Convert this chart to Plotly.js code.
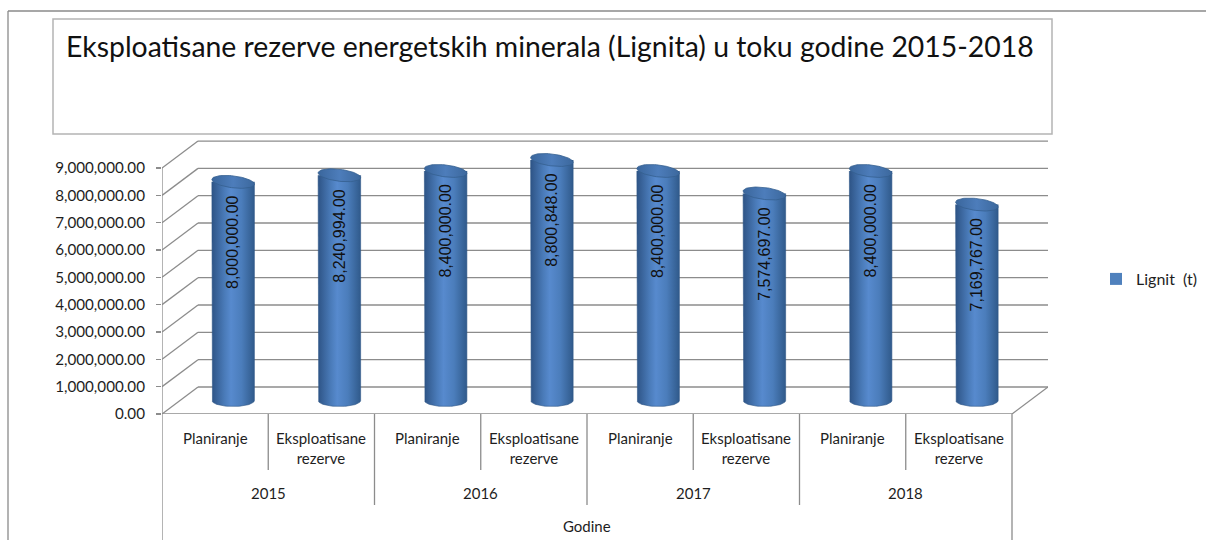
<!DOCTYPE html>
<html>
<head>
<meta charset="utf-8">
<script src="https://cdn.plot.ly/plotly-3.0.1.min.js"></script>
<style>html,body{margin:0;padding:0;background:#fff;}#chart{width:1206px;height:540px;}</style>
</head>
<body>
<div id="chart"></div>
<script>
// ---- data ----
const years = ['2015', '2016', '2017', '2018'];
const categories = ['Planiranje', 'Eksploatisane<br>rezerve', 'Planiranje', 'Eksploatisane<br>rezerve',
                    'Planiranje', 'Eksploatisane<br>rezerve', 'Planiranje', 'Eksploatisane<br>rezerve'];
const values = [8000000, 8240994, 8400000, 8800848, 8400000, 7574697, 8400000, 7169767];
const yTicks = [0, 1000000, 2000000, 3000000, 4000000, 5000000, 6000000, 7000000, 8000000, 9000000];
const seriesName = 'Lignit  (t)';
const axisTitle = 'Godine';
const chartTitle = 'Eksploatisane rezerve energetskih minerala (Lignita) u toku godine 2015-2018';

// ---- geometry (pixel helpers for decoration) ----
const L = 162, R = 1048, T = 140, B = 414;
const W = R - L, H = B - T;
const pxX = p => (p - L) / W;          // pixel -> paper x
const pxY = p => (B - p) / H;          // pixel -> paper y
const unitX = 106.25;                  // px per category
const unitY = 27.33 / 1e6;             // px per value unit
const DX = 36 / unitX;                 // depth offset (category units)
const DY = 27 / unitY;                 // depth offset (value units)
const xMin = -0.5, xMax = -0.5 + W / unitX;
const yMax = H / unitY;

const grid = '#8c8c8c';
const shapes = [];
const line = (x0, y0, x1, y1, xref, yref, color, width) => shapes.push({
  type: 'line', x0, y0, x1, y1, xref, yref, layer: 'below',
  line: {color: color || grid, width: width || 1.3}
});

// outer frame and title box
line(pxX(8), pxY(11), pxX(8), pxY(540), 'paper', 'paper', '#8a8a8a', 1.3);
line(pxX(8), pxY(11), pxX(1206), pxY(11), 'paper', 'paper', '#8a8a8a', 1.3);
shapes.push({type: 'rect', xref: 'paper', yref: 'paper', x0: pxX(53), x1: pxX(1052), y0: pxY(19), y1: pxY(134),
  line: {color: '#b4b4b4', width: 1.5}, fillcolor: 'rgba(0,0,0,0)', layer: 'below'});

// back wall gridlines + side diagonals
const n = values.length;
yTicks.forEach(v => {
  line(xMin + DX, v + DY, n - 0.5 + DX, v + DY, 'x', 'y');
  line(xMin, v, xMin + DX, v + DY, 'x', 'y');
});
// front axis line, floor front edge, floor right diagonal
line(xMin, 0, xMin, yTicks[yTicks.length - 1], 'x', 'y');
line(xMin, 0, n - 0.5, 0, 'x', 'y');
line(n - 0.5, 0, n - 0.5 + DX, DY, 'x', 'y');

// category separators under the axis
for (let i = 0; i <= n; i++) {
  let bottom = 470;
  if (i % 2 === 0) bottom = 505;
  if (i === 0 || i === n) bottom = 540;
  shapes.push({type: 'line', xref: 'x', yref: 'paper', x0: i - 0.5, x1: i - 0.5, y0: 0, y1: pxY(bottom),
    line: {color: grid, width: 1.3}, layer: 'below'});
}

// ---- cylinders ----
const traces = [];
const hw = 0.2;                  // half width in category units
const ry = 6 / unitY;            // ellipse half-height in value units
const body = [[0, '#2e5486'], [0.3, '#4a7bb9'], [0.45, '#578ace'], [0.7, '#4b7dbb'], [1, '#305a8b']];
const cap = [[0, '#3a669c'], [0.5, '#4d7dbb'], [1, '#3c689d']];
const steps = 40;
const annotations = [];
values.forEach((v, i) => {
  const cx = i + DX / 2;
  const yb = DY / 2, yt = v + DY / 2;
  const bx = [cx - hw], by = [yt];
  bx.push(cx - hw); by.push(yb);
  for (let k = 0; k <= steps; k++) {
    const a = Math.PI + Math.PI * k / steps;
    bx.push(cx + hw * Math.cos(a)); by.push(yb + ry * Math.sin(a));
  }
  bx.push(cx + hw); by.push(yt);
  traces.push({type: 'scatter', mode: 'lines', x: bx, y: by, fill: 'toself',
    fillgradient: {type: 'horizontal', colorscale: body},
    line: {color: '#2d5587', width: 0.6}, hoverinfo: 'skip', showlegend: false});
  const tx = [], ty = [];
  for (let k = 0; k <= 2 * steps; k++) {
    const a = 2 * Math.PI * k / (2 * steps);
    tx.push(cx + hw * Math.cos(a)); ty.push(yt + ry * Math.sin(a) - 0.4 * ry * Math.cos(a));
  }
  traces.push({type: 'scatter', mode: 'lines', x: tx, y: ty, fill: 'toself',
    fillgradient: {type: 'horizontal', colorscale: cap},
    line: {color: '#35608f', width: 0.8}, hoverinfo: 'skip', showlegend: false});
  annotations.push({x: cx, y: yt, xref: 'x', yref: 'y', yanchor: 'top', xanchor: 'center', yshift: -11,
    text: v.toLocaleString('en-US', {minimumFractionDigits: 2, maximumFractionDigits: 2}),
    textangle: -90, showarrow: false,
    font: {family: 'Liberation Sans, Arial, sans-serif', size: 16, color: '#111'}});
});

// legend entry
traces.push({type: 'bar', x: [null], y: [null], name: seriesName, marker: {color: '#4f81bd'}, hoverinfo: 'skip'});

// category labels
const labFont = {family: 'Lato, sans-serif', size: 15, color: '#1e1e1e'};
categories.forEach((c, i) => annotations.push({x: i, y: pxY(427), xref: 'x', yref: 'paper', yanchor: 'top',
  text: c, showarrow: false, font: labFont}));
years.forEach((yv, j) => annotations.push({x: 2 * j + 0.5, y: pxY(493), xref: 'x', yref: 'paper',
  yanchor: 'middle', text: yv, showarrow: false, font: labFont}));
annotations.push({x: (n - 1) / 2, y: pxY(526), xref: 'x', yref: 'paper', yanchor: 'middle',
  text: axisTitle, showarrow: false, font: labFont});

const layout = {
  width: 1206, height: 540,
  margin: {l: L, r: 1206 - R, t: T, b: 540 - B, pad: 0, autoexpand: false},
  paper_bgcolor: '#ffffff', plot_bgcolor: 'rgba(0,0,0,0)',
  title: {text: chartTitle, x: 66 / 1206, xanchor: 'left', xref: 'container', y: 1 - 47 / 540, yanchor: 'middle', yref: 'container',
    font: {family: 'Lato, sans-serif', size: 28.4, color: '#111'}},
  xaxis: {range: [xMin, xMax], showgrid: false, zeroline: false, showticklabels: false, ticks: '', showline: false, fixedrange: true},
  yaxis: {range: [0, yMax], tickvals: yTicks, tickformat: ',.2f', showgrid: false, zeroline: false, showline: false,
    ticks: 'outside', ticklen: 5, tickcolor: grid, tickwidth: 1.3, ticklabelstandoff: 8,
    tickfont: {family: 'Lato, sans-serif', size: 15.2, color: '#1e1e1e'}, fixedrange: true},
  showlegend: true,
  legend: {x: pxX(1096), y: pxY(279), xanchor: 'left', yanchor: 'middle', xref: 'paper', yref: 'paper',
    itemwidth: 30, font: {family: 'Lato, sans-serif', size: 16, color: '#1e1e1e'}, bgcolor: 'rgba(0,0,0,0)'},
  shapes, annotations, hovermode: false
};

Plotly.newPlot('chart', traces, layout, {displayModeBar: false, staticPlot: true});
</script>
</body>
</html>
